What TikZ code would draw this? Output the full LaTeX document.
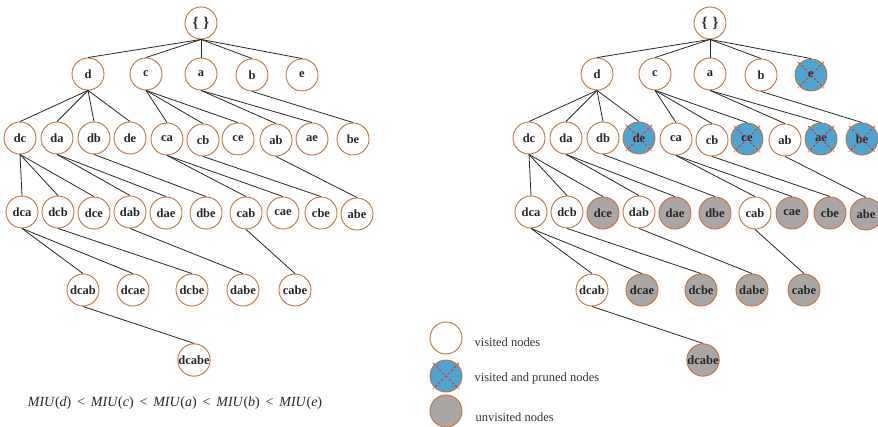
\documentclass[tikz,border=0pt]{standalone}
\usepackage{fontspec}
\setmainfont{Liberation Serif}
\definecolor{ocol}{RGB}{200,112,58}
\definecolor{pblue}{RGB}{79,163,209}
\definecolor{ugray}{RGB}{170,166,165}
\definecolor{xred}{RGB}{232,48,40}
\tikzset{
  base/.style={circle,minimum size=32pt,inner sep=0pt,draw=ocol,line width=0.9pt,
    font=\bfseries\fontsize{12.5}{14}\selectfont,text=black!85},
  vis/.style={base,fill=white},
  prn/.style={base,fill=pblue},
  unv/.style={base,fill=ugray},
  rootlab/.style={font=\bfseries\fontsize{15}{16}\selectfont},
  edge/.style={draw=black!85,line width=0.8pt},
  xmark/.style={draw=xred,dashed,dash pattern=on 2.5pt off 2pt,line width=1pt},
  legtext/.style={anchor=west,font=\fontsize{12.5}{14}\selectfont,text=black!80}
}
\begin{document}
\begin{tikzpicture}[x=1pt,y=-1pt]
\path[use as bounding box] (0,0) rectangle (878,427);
% ---------- left tree: all visited ----------
\node[vis,rootlab] (Lroot) at (201,23) {\{\,\,\}};
\node[vis,rootlab] (Rroot) at (710,23) {\{\,\,\}};
\foreach \n/\x/\y in {d/88/74,c/146/74,a/201/74,b/252/75,e/302/75,
  dc/20/138,da/57/138,db/94/138,de/130/138,ca/167/139,cb/203/140,ce/238/139,ab/276/140,ae/312/139,be/353/139,
  dca/22/212,dcb/58/212,dce/94/213,dab/130/212,dae/166/213,dbe/206/213,cab/246/213,cae/283/213,cbe/321/213,abe/357/214,
  dcab/83/290,dcae/133/290,dcbe/192/290,dabe/243/290,cabe/295/290,
  dcabe/194/360}
  \node[vis] (L\n) at (\x,\y) {\n};
% ---------- right tree ----------
\foreach \n/\x/\y/\s in {d/88/74/vis,c/146/74/vis,a/201/74/vis,b/252/75/vis,e/302/75/prn,
  dc/20/138/vis,da/57/138/vis,db/94/138/vis,de/130/138/prn,ca/167/139/vis,cb/203/140/vis,ce/238/139/prn,ab/276/140/vis,ae/312/139/prn,be/353/139/prn,
  dca/22/212/vis,dcb/58/212/vis,dce/94/213/unv,dab/130/212/vis,dae/166/213/unv,dbe/206/213/unv,cab/246/213/vis,cae/283/213/unv,cbe/321/213/unv,abe/357/214/unv,
  dcab/83/290/vis,dcae/133/290/unv,dcbe/192/290/unv,dabe/243/290/unv,cabe/295/290/unv,
  dcabe/194/360/unv}
  \node[\s] (R\n) at (\x+509,\y) {\n};
% ---------- edges ----------
\foreach \a/\b in {root/d,root/c,root/a,root/b,root/e,
  d/dc,d/da,d/db,d/de,c/ca,c/cb,c/ce,a/ab,a/ae,b/be,
  dc/dca,dc/dcb,dc/dce,da/dab,da/dae,db/dbe,ca/cab,ca/cae,cb/cbe,ab/abe,
  dca/dcab,dca/dcae,dcb/dcbe,dab/dabe,cab/cabe,dcab/dcabe}
  {\draw[edge] (L\a.south) -- (L\b.north);
   \draw[edge] (R\a.south) -- (R\b.north);}
% ---------- pruned crosses ----------
\foreach \n in {e,de,ce,ae,be}
  {\draw[xmark] ([shift={(-13,-13)}]R\n.center) -- ([shift={(13,13)}]R\n.center);
   \draw[xmark] ([shift={(13,-13)}]R\n.center) -- ([shift={(-13,13)}]R\n.center);}
% ---------- legend ----------
\node[vis] (g1) at (446,338) {};
\node[prn] (g2) at (446,376) {};
\node[unv] (g3) at (446,411) {};
\draw[xmark] ([shift={(-13,-13)}]g2.center) -- ([shift={(13,13)}]g2.center);
\draw[xmark] ([shift={(13,-13)}]g2.center) -- ([shift={(-13,13)}]g2.center);
\node[legtext] (t1) at (471,342) {visited nodes};
\node[legtext] (t2) at (471,378) {visited and pruned nodes};
\node[legtext] (t3) at (472,417) {unvisited nodes};
% ---------- formula ----------
\node[font=\fontsize{14}{16}\selectfont,text=black!85] (miu) at (175,403)
  {\textit{MIU}(\textit{d}) \,<\, \textit{MIU}(\textit{c}) \,<\, \textit{MIU}(\textit{a}) \,<\, \textit{MIU}(\textit{b}) \,<\, \textit{MIU}(\textit{e})};
\end{tikzpicture}
\end{document}
